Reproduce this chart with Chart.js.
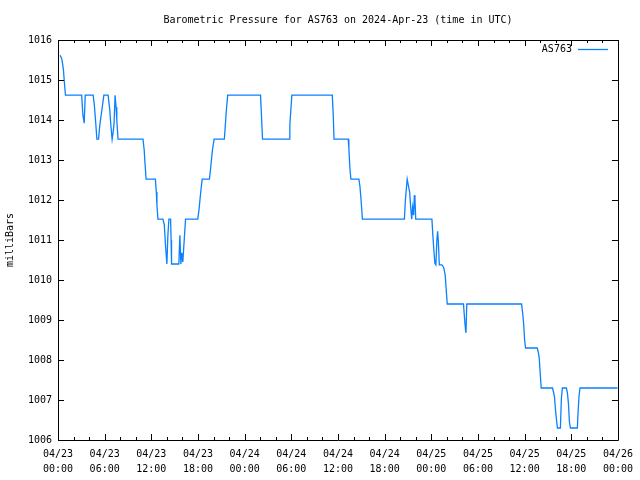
<!DOCTYPE html>
<html>
<head>
<meta charset="utf-8">
<script src="https://cdn.jsdelivr.net/npm/chart.js@4.4.1/dist/chart.umd.min.js"></script>
<style>
  html, body { margin: 0; padding: 0; background: #fff; }
  #wrap { width: 640px; height: 480px; position: relative; }
</style>
</head>
<body>
<div id="wrap"><canvas id="c" width="640" height="480"></canvas></div>
<script>
// Hours since 2024-04-23 00:00 UTC
const hours = [
  0.26, 0.45, 0.58, 0.70, 0.83, 0.96, 3.04, 3.20, 3.37, 3.50,
  4.52, 4.67, 4.87, 5.00, 5.21, 5.38, 5.64, 5.90, 6.44, 6.66,
  6.79, 6.96, 7.08, 7.21, 7.34, 7.47, 7.56, 7.72, 7.81, 10.93,
  11.08, 11.20, 11.33, 12.52, 12.64, 12.72, 12.85, 13.49, 13.67, 13.84,
  14.00, 14.13, 14.26, 14.48, 14.54, 14.60, 15.54, 15.67, 15.80, 15.92,
  16.05, 16.23, 16.40, 17.97, 18.13, 18.25, 18.38, 18.54, 19.47, 19.60,
  19.73, 19.86, 20.07, 21.39, 21.52, 21.65, 21.82, 26.04, 26.13, 26.30,
  29.72, 29.81, 30.07, 35.27, 35.40, 35.49, 37.32, 37.40, 37.53, 37.66,
  38.69, 38.82, 38.95, 39.08, 39.14, 44.54, 44.67, 44.80, 44.90, 45.00,
  45.09, 45.22, 45.35, 45.48, 45.60, 45.73, 45.82, 45.90, 46.00, 48.08,
  48.20, 48.33, 48.46, 48.59, 48.72, 48.81, 48.90, 49.03, 49.36, 49.58,
  49.79, 49.92, 50.05, 52.14, 52.27, 52.40, 52.46, 52.56, 59.61, 59.74,
  59.87, 60.00, 60.12, 61.62, 61.75, 61.88, 62.00, 62.13, 63.58, 63.71,
  63.84, 63.97, 64.10, 64.22, 64.60, 64.73, 64.86, 65.37, 65.50, 65.63,
  65.76, 65.89, 66.78, 66.87, 67.00, 67.13, 71.95
];
// Pressure in milliBars
const pressure = [
  1015.62, 1015.55, 1015.42, 1015.25, 1014.92, 1014.62, 1014.62, 1014.12, 1013.92, 1014.62,
  1014.62, 1014.38, 1013.88, 1013.52, 1013.52, 1013.88, 1014.25, 1014.62, 1014.62, 1014.25,
  1013.88, 1013.52, 1013.68, 1013.92, 1014.62, 1014.32, 1014.00, 1013.52, 1013.52, 1013.52,
  1013.25, 1012.88, 1012.52, 1012.52, 1012.20, 1011.88, 1011.52, 1011.52, 1011.38, 1010.82,
  1010.40, 1011.12, 1011.52, 1011.52, 1011.00, 1010.40, 1010.40, 1011.12, 1010.40, 1010.68,
  1010.45, 1011.00, 1011.52, 1011.52, 1011.75, 1012.00, 1012.25, 1012.52, 1012.52, 1012.75,
  1013.00, 1013.25, 1013.52, 1013.52, 1013.88, 1014.25, 1014.62, 1014.62, 1014.25, 1013.52,
  1013.52, 1013.88, 1014.62, 1014.62, 1014.08, 1013.52, 1013.52, 1013.30, 1012.80, 1012.52,
  1012.52, 1012.35, 1012.05, 1011.70, 1011.52, 1011.52, 1012.00, 1012.30, 1012.52, 1012.52,
  1012.32, 1012.20, 1011.82, 1011.52, 1011.82, 1011.62, 1012.12, 1012.02, 1011.52, 1011.52,
  1011.12, 1010.75, 1010.42, 1010.38, 1011.00, 1011.22, 1011.00, 1010.38, 1010.38, 1010.32,
  1010.12, 1009.75, 1009.40, 1009.40, 1009.05, 1008.75, 1008.68, 1009.40, 1009.40, 1009.18,
  1008.92, 1008.50, 1008.30, 1008.30, 1008.20, 1008.05, 1007.68, 1007.30, 1007.30, 1007.20,
  1007.08, 1006.75, 1006.50, 1006.30, 1006.30, 1007.05, 1007.30, 1007.30, 1007.18, 1006.92,
  1006.45, 1006.30, 1006.30, 1006.68, 1007.12, 1007.30, 1007.30
];
const tickDates = ['04/23','04/23','04/23','04/23','04/24','04/24','04/24','04/24','04/25','04/25','04/25','04/25','04/26'];
const tickTimes = ['00:00','06:00','12:00','18:00','00:00','06:00','12:00','18:00','00:00','06:00','12:00','18:00','00:00'];
const seriesName = 'AS763';
const titleText = 'Barometric Pressure for AS763 on 2024-Apr-23 (time in UTC)';
const yTitle = 'milliBars';

const FONT = "'DejaVu Sans Mono', 'Liberation Mono', monospace";
const LINE_COLOR = '#0a80ff';

const points = hours.map((h, i) => ({ x: h, y: pressure[i] }));

Chart.defaults.color = '#000';
Chart.defaults.font.family = FONT;
Chart.defaults.font.size = 10;

const frame = {
  id: 'frame',
  afterDatasetsDraw(chart) {
    const { ctx, chartArea: a, scales } = chart;
    ctx.save();
    ctx.strokeStyle = '#000';
    ctx.lineWidth = 1;
    ctx.beginPath();
    ctx.rect(Math.round(a.left) + 0.5, Math.round(a.top) + 0.5,
             Math.round(a.right - a.left), Math.round(a.bottom - a.top));
    ctx.stroke();
    ctx.beginPath();
    for (let h = 0; h <= 72; h += 2) {
      const x = Math.round(scales.x.getPixelForValue(h)) + 0.5;
      const len = (h % 6 === 0) ? 6 : 3;
      ctx.moveTo(x, a.bottom); ctx.lineTo(x, a.bottom - len);
      ctx.moveTo(x, a.top); ctx.lineTo(x, a.top + len);
    }
    for (let v = 1006; v <= 1016; v += 1) {
      const y = Math.round(scales.y.getPixelForValue(v)) + 0.5;
      ctx.moveTo(a.left, y); ctx.lineTo(a.left + 6, y);
      ctx.moveTo(a.right, y); ctx.lineTo(a.right - 6, y);
    }
    ctx.stroke();
    // legend (key) in top-right of the plot
    const ly = Math.round(a.top) + 9.5;
    ctx.strokeStyle = LINE_COLOR;
    ctx.lineWidth = 1.3;
    ctx.beginPath();
    ctx.moveTo(a.right - 40, ly); ctx.lineTo(a.right - 10, ly);
    ctx.stroke();
    ctx.fillStyle = '#000';
    ctx.font = '10px ' + FONT;
    ctx.textAlign = 'right';
    ctx.textBaseline = 'middle';
    ctx.fillText(chart.data.datasets[0].label, a.right - 46, ly);
    ctx.restore();
  }
};

new Chart(document.getElementById('c'), {
  type: 'line',
  data: {
    datasets: [{
      label: seriesName,
      data: points,
      borderColor: LINE_COLOR,
      backgroundColor: LINE_COLOR,
      borderWidth: 1.3,
      pointRadius: 0,
      tension: 0,
      fill: false
    }]
  },
  options: {
    responsive: false,
    animation: false,
    events: [],
    layout: { padding: { left: 0, right: 20, top: 0, bottom: 0 } },
    plugins: {
      legend: { display: false },
      tooltip: { enabled: false },
      title: {
        display: true,
        text: titleText,
        fullSize: false,
        color: '#000',
        font: { family: FONT, size: 10, weight: 'normal', lineHeight: 1.2 },
        padding: { top: 14, bottom: 14 }
      }
    },
    scales: {
      x: {
        type: 'linear',
        min: 0,
        max: 72,
        afterFit(s) { s.height = 40; },
        grid: { display: false, drawTicks: false },
        border: { display: false },
        ticks: {
          stepSize: 6,
          autoSkip: false,
          maxRotation: 0,
          padding: 7,
          font: { family: FONT, size: 10, lineHeight: 1.5 },
          callback(v) {
            const i = Math.round(v / 6);
            return [tickDates[i], tickTimes[i]];
          }
        }
      },
      y: {
        type: 'linear',
        min: 1006,
        max: 1016,
        afterFit(s) { s.width = 58; },
        grid: { display: false, drawTicks: false },
        border: { display: false },
        title: {
          display: true,
          text: yTitle,
          color: '#000',
          font: { family: FONT, size: 10 },
          padding: { top: 4, bottom: 0 }
        },
        ticks: {
          stepSize: 1,
          padding: 6,
          font: { family: FONT, size: 10 },
          callback(v) { return String(v); }
        }
      }
    }
  },
  plugins: [frame]
});
</script>
</body>
</html>
